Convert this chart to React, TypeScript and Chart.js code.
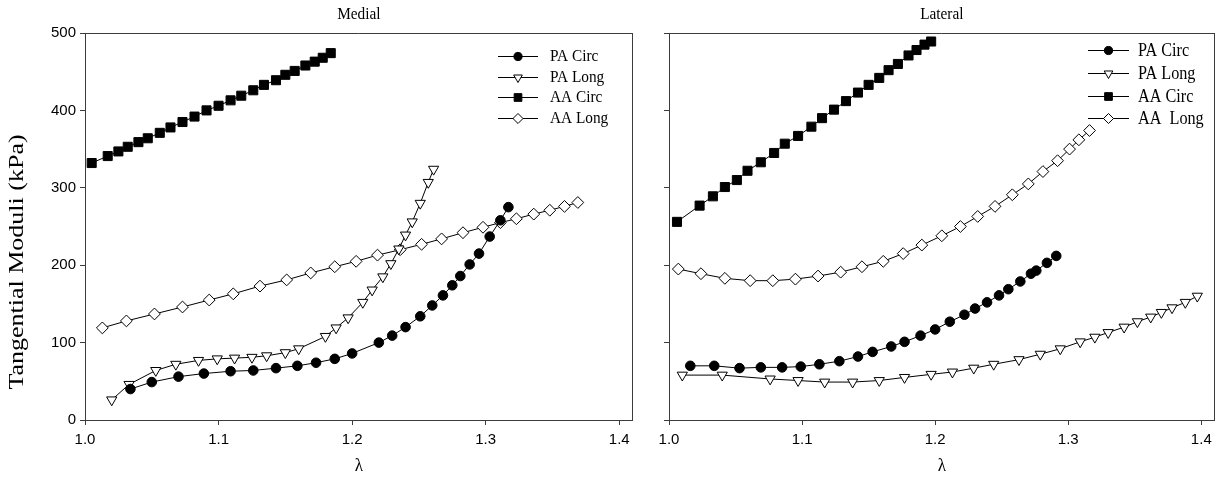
import React, { useEffect, useRef } from 'react';
import { Chart, registerables } from 'chart.js';
import { drawPoint } from 'chart.js/helpers';

Chart.register(...registerables);

// λ (stretch ratio) and tangential moduli (kPa) for each specimen curve
const medialPaCircX = [1.034, 1.050, 1.070, 1.089, 1.109, 1.126, 1.143, 1.159, 1.173, 1.187, 1.200, 1.220, 1.230, 1.240, 1.251, 1.260, 1.268, 1.275, 1.281, 1.288, 1.295, 1.303, 1.311, 1.317];
const medialPaCircY = [40, 49, 56, 60, 63, 64, 67, 70, 74, 79, 86, 100, 109, 120, 134, 148, 161, 174, 186, 201, 215, 237, 258, 275];

const medialPaLongX = [1.020, 1.033, 1.053, 1.068, 1.085, 1.099, 1.112, 1.125, 1.136, 1.150, 1.160, 1.180, 1.188, 1.197, 1.208, 1.215, 1.223, 1.229, 1.235, 1.240, 1.245, 1.251, 1.257, 1.261];
const medialPaLongY = [26, 46, 64, 72, 77, 79, 80, 81, 83, 87, 92, 108, 119, 132, 152, 168, 185, 202, 221, 239, 256, 280, 307, 324];

const medialAaCircX = [1.005, 1.017, 1.025, 1.032, 1.040, 1.047, 1.056, 1.064, 1.073, 1.082, 1.091, 1.100, 1.109, 1.117, 1.126, 1.134, 1.143, 1.150, 1.157, 1.165, 1.172, 1.178, 1.184];
const medialAaCircY = [332, 341, 347, 353, 359, 364, 371, 378, 385, 392, 400, 406, 413, 419, 426, 433, 439, 446, 451, 458, 463, 468, 474];

const medialAaLongX = [1.013, 1.031, 1.052, 1.073, 1.093, 1.111, 1.131, 1.151, 1.169, 1.187, 1.203, 1.219, 1.236, 1.252, 1.267, 1.283, 1.298, 1.311, 1.323, 1.336, 1.348, 1.359, 1.369];
const medialAaLongY = [119, 128, 137, 146, 155, 163, 173, 181, 190, 198, 205, 213, 220, 227, 234, 242, 249, 255, 260, 266, 271, 276, 281];

const lateralPaCircX = [1.016, 1.034, 1.053, 1.069, 1.085, 1.099, 1.113, 1.128, 1.142, 1.153, 1.167, 1.177, 1.189, 1.200, 1.211, 1.222, 1.230, 1.239, 1.248, 1.255, 1.264, 1.272, 1.276, 1.284, 1.291];
const lateralPaCircY = [70, 70, 67, 68, 68, 69, 72, 76, 82, 88, 95, 101, 109, 117, 127, 136, 144, 152, 161, 169, 179, 189, 193, 203, 212];

const lateralPaLongX = [1.010, 1.040, 1.076, 1.097, 1.117, 1.138, 1.158, 1.177, 1.197, 1.213, 1.229, 1.244, 1.263, 1.279, 1.294, 1.309, 1.320, 1.330, 1.342, 1.352, 1.362, 1.370, 1.378, 1.388, 1.397];
const lateralPaLongY = [58, 58, 53, 51, 49, 49, 51, 55, 59, 62, 67, 72, 78, 85, 92, 101, 107, 113, 120, 127, 133, 139, 145, 152, 160];

const lateralAaCircX = [1.006, 1.023, 1.033, 1.042, 1.051, 1.059, 1.069, 1.079, 1.087, 1.097, 1.107, 1.115, 1.124, 1.133, 1.142, 1.150, 1.158, 1.165, 1.172, 1.180, 1.186, 1.192, 1.197];
const lateralAaCircY = [256, 277, 289, 301, 310, 322, 333, 345, 357, 367, 379, 390, 401, 412, 423, 433, 442, 452, 460, 471, 478, 485, 489];

const lateralAaLongX = [1.007, 1.024, 1.042, 1.061, 1.078, 1.095, 1.112, 1.129, 1.145, 1.161, 1.176, 1.190, 1.205, 1.219, 1.232, 1.245, 1.258, 1.270, 1.281, 1.292, 1.301, 1.308, 1.316];
const lateralAaLongY = [195, 189, 183, 180, 180, 182, 186, 191, 198, 205, 215, 226, 238, 250, 263, 276, 291, 305, 321, 335, 350, 362, 374];

const xTicks = [1.0, 1.1, 1.2, 1.3, 1.4];
const yTicks = [0, 100, 200, 300, 400, 500];

const medialLegend = ['PA Circ', 'PA Long', 'AA Circ', 'AA Long'];
const lateralLegend = ['PA Circ', 'PA Long', 'AA Circ', 'AA  Long'];

const AXIS = '#3c3c3c';
const SERIF = '"Liberation Serif", "Times New Roman", serif';
const SANS = '"Liberation Sans", Arial, sans-serif';
// serif captions are set slightly condensed
const CONDENSE = 0.9;

type Marker = { pointStyle: string; radius: number; rotation: number; fill: string };

const markers: Marker[] = [
  { pointStyle: 'circle', radius: 4.8, rotation: 0, fill: '#000' },
  { pointStyle: 'triangle', radius: 5.9, rotation: 180, fill: '#fff' },
  { pointStyle: 'rect', radius: 6.4, rotation: 0, fill: '#000' },
  { pointStyle: 'rectRot', radius: 5.9, rotation: 0, fill: '#fff' },
];

const toPoints = (xs: number[], ys: number[]) => xs.map((x, i) => ({ x, y: ys[i] }));

const makeDatasets = (series: [number[], number[]][], labels: string[]) =>
  series.map(([xs, ys], i) => ({
    label: labels[i],
    data: toPoints(xs, ys),
    borderColor: '#000',
    borderWidth: 1,
    pointStyle: markers[i].pointStyle,
    pointRadius: markers[i].radius,
    pointRotation: markers[i].rotation,
    pointBackgroundColor: markers[i].fill,
    pointBorderColor: '#000',
    pointBorderWidth: 1,
    fill: false,
    tension: 0,
  }));

type PanelConfig = {
  title: string;
  legend: string[];
  legendFont: number;
  legendRows: number[];
  legendLineX: [number, number];
  legendTextX: number;
  showYLabels: boolean;
  yAxisWidth: number;
  rightPad: number;
};

// draws text horizontally condensed around its anchor
const condensedText = (ctx: CanvasRenderingContext2D, text: string, x: number, y: number) => {
  ctx.save();
  ctx.translate(x, y);
  ctx.scale(CONDENSE, 1);
  ctx.fillText(text, 0, 0);
  ctx.restore();
};

const decorPlugin = (cfg: PanelConfig) => ({
  id: 'panelDecor',
  afterDraw(chart: any) {
    const { ctx, chartArea: a } = chart;
    ctx.save();
    // frame on the top and right sides
    ctx.strokeStyle = AXIS;
    ctx.lineWidth = 1;
    ctx.beginPath();
    ctx.moveTo(a.left, Math.round(a.top) + 0.5);
    ctx.lineTo(a.right, Math.round(a.top) + 0.5);
    ctx.moveTo(Math.round(a.right) - 0.5, a.top);
    ctx.lineTo(Math.round(a.right) - 0.5, a.bottom);
    ctx.stroke();

    // panel title and x-axis symbol
    const cx = (a.left + a.right) / 2;
    ctx.fillStyle = '#000';
    ctx.textAlign = 'center';
    ctx.textBaseline = 'middle';
    ctx.font = `17px ${SERIF}`;
    condensedText(ctx, cfg.title, cx, 15);
    ctx.font = `19px ${SERIF}`;
    condensedText(ctx, 'λ', cx, 466);

    // y-axis title on the first panel only
    if (cfg.showYLabels) {
      ctx.save();
      ctx.translate(18, 262);
      ctx.rotate(-Math.PI / 2);
      ctx.scale(1, 0.8);
      ctx.font = `26px ${SERIF}`;
      ctx.fillText('Tangential Moduli (kPa)', 0, 0);
      ctx.restore();
    }

    // legend
    const [lx0, lx1] = cfg.legendLineX;
    const mx = (lx0 + lx1) / 2;
    ctx.textAlign = 'left';
    ctx.font = `${cfg.legendFont}px ${SERIF}`;
    cfg.legend.forEach((label, i) => {
      const y = cfg.legendRows[i];
      ctx.strokeStyle = '#000';
      ctx.lineWidth = 1;
      ctx.beginPath();
      ctx.moveTo(lx0, Math.round(y) + 0.5);
      ctx.lineTo(lx1, Math.round(y) + 0.5);
      ctx.stroke();
      const m = markers[i];
      ctx.fillStyle = m.fill;
      ctx.strokeStyle = '#000';
      drawPoint(ctx, { pointStyle: m.pointStyle as any, radius: m.radius * 0.85, rotation: m.rotation, borderWidth: 1 }, mx, Math.round(y) + 0.5);
      ctx.fillStyle = '#000';
      condensedText(ctx, label, cfg.legendTextX, y + 1);
    });
    ctx.restore();
  },
});

function Panel(props: { cfg: PanelConfig; series: [number[], number[]][]; left: number; width: number }) {
  const ref = useRef<HTMLCanvasElement | null>(null);
  const { cfg, series, left, width } = props;

  useEffect(() => {
    if (!ref.current) return;
    const chart = new Chart(ref.current, {
      type: 'line',
      data: { datasets: makeDatasets(series, cfg.legend) as any },
      options: {
        animation: false,
        responsive: false,
        devicePixelRatio: 1,
        layout: { padding: { left: 0, top: 33, right: cfg.rightPad, bottom: 0 } },
        plugins: { legend: { display: false }, title: { display: false }, tooltip: { enabled: false } },
        scales: {
          x: {
            type: 'linear',
            min: 1.0,
            max: 1.41,
            afterFit: (s: any) => { s.height = 62; },
            afterBuildTicks: (s: any) => { s.ticks = xTicks.map((v) => ({ value: v })); },
            ticks: {
              includeBounds: false,
              padding: 6,
              color: '#000',
              font: { family: SANS, size: 15 },
              callback: (v: any) => Number(v).toFixed(1),
              maxRotation: 0,
            },
            grid: { drawOnChartArea: false, drawTicks: true, tickLength: 5, tickColor: AXIS },
            border: { display: true, color: AXIS, width: 1 },
          },
          y: {
            type: 'linear',
            min: 0,
            max: 500,
            afterFit: (s: any) => { s.width = cfg.yAxisWidth; },
            afterBuildTicks: (s: any) => { s.ticks = yTicks.map((v) => ({ value: v })); },
            ticks: {
              display: cfg.showYLabels,
              padding: 4,
              color: '#000',
              font: { family: SANS, size: 15 },
            },
            grid: { drawOnChartArea: false, drawTicks: true, tickLength: 5, tickColor: AXIS },
            border: { display: true, color: AXIS, width: 1 },
          },
        },
      },
      plugins: [decorPlugin(cfg)],
    });
    return () => chart.destroy();
  }, []);

  return (
    <canvas
      ref={ref}
      width={width}
      height={482}
      style={{ position: 'absolute', left, top: 0, width, height: 482 }}
    />
  );
}

const medialCfg: PanelConfig = {
  title: 'Medial',
  legend: medialLegend,
  legendFont: 17,
  legendRows: [56, 77, 97, 118],
  legendLineX: [498, 538],
  legendTextX: 550,
  showYLabels: true,
  yAxisWidth: 85,
  rightPad: 6,
};

const lateralCfg: PanelConfig = {
  title: 'Lateral',
  legend: lateralLegend,
  legendFont: 18,
  legendRows: [50, 73, 96, 118],
  legendLineX: [448, 489],
  legendTextX: 498,
  showYLabels: false,
  yAxisWidth: 29,
  rightPad: 3,
};

export default function App() {
  return (
    <div style={{ position: 'fixed', left: 0, top: 0, width: 1218, height: 482, overflow: 'hidden', background: '#fff' }}>
      <Panel
        cfg={medialCfg}
        left={0}
        width={640}
        series={[[medialPaCircX, medialPaCircY], [medialPaLongX, medialPaLongY], [medialAaCircX, medialAaCircY], [medialAaLongX, medialAaLongY]]}
      />
      <Panel
        cfg={lateralCfg}
        left={640}
        width={582}
        series={[[lateralPaCircX, lateralPaCircY], [lateralPaLongX, lateralPaLongY], [lateralAaCircX, lateralAaCircY], [lateralAaLongX, lateralAaLongY]]}
      />
    </div>
  );
}
